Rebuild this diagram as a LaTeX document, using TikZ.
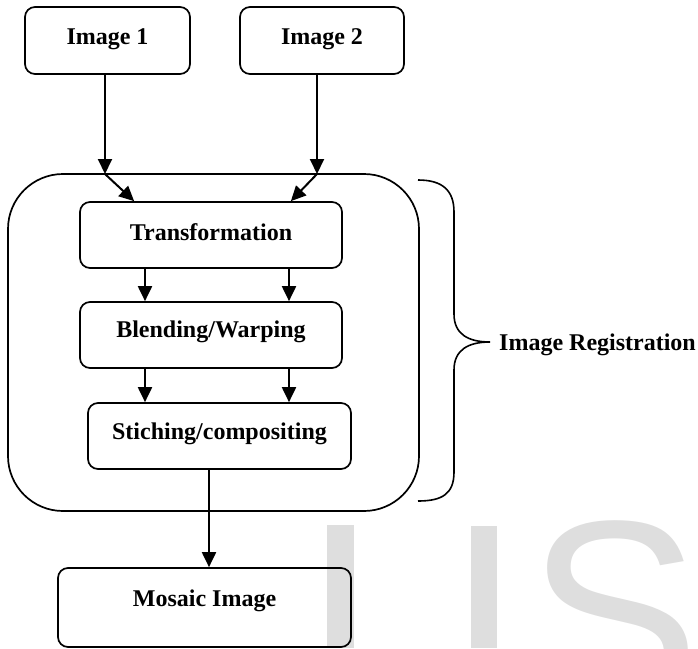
\documentclass[tikz,border=0pt]{standalone}
\usepackage{fontspec}
\setmainfont{Liberation Serif}
\newfontfamily\wmfont{Liberation Sans}
\usetikzlibrary{arrows.meta}
\definecolor{wmgrey}{HTML}{DEDEDE}
\begin{document}
\begin{tikzpicture}[x=1pt,y=-1pt,
  box/.style={draw, line width=1.7pt, rounded corners=10pt, inner sep=0pt,
    font=\fontsize{24}{28}\selectfont\bfseries, text height=18pt},
  arr/.style={line width=2pt, -{Triangle[length=15pt,width=14pt]}},
  lbl/.style={inner sep=0pt, font=\fontsize{24}{28}\selectfont\bfseries},
  wm/.style={fill=wmgrey, draw=none}
]
\useasboundingbox (0,0) rectangle (698,648);
% watermark
\begin{scope}
\clip (0,0) rectangle (698,648);
\fill[wm] (327,525) rectangle (354,648);
\fill[wm] (471,526) rectangle (497,648);
\node[text=wmgrey, anchor=north west, inner sep=0pt, font=\wmfont\fontsize{259}{260}\selectfont] (wmS) at (527,520) {S};
\end{scope}
% boxes
\node[box, minimum width=165pt, minimum height=67pt, text depth=11pt] (img1) at (107.5,40.5) {Image 1};
\node[box, minimum width=164pt, minimum height=67pt, text depth=11pt] (img2) at (322,40.5) {Image 2};
\node[box, minimum width=262pt, minimum height=66pt, text depth=8pt] (tr) at (211,235) {Transformation};
\node[box, minimum width=262pt, minimum height=66pt, text depth=14pt] (bl) at (211,335) {Blending/Warping};
\node[box, minimum width=263pt, minimum height=66pt, text depth=12pt] (st) at (219.5,436) {Stiching/compositing};
\node[box, minimum width=293pt, minimum height=79pt, text depth=21pt] (mo) at (204.5,607.5) {Mosaic Image};
% registration container
\node[draw, line width=1.7pt, rounded corners=55pt, minimum width=411pt, minimum height=337pt, inner sep=0pt] (reg) at (213.5,342.5) {};
% brace and label
\draw[line width=1.6pt] (418,180) .. controls (442,180) and (454,190) .. (454,212) -- (454,314)
  .. controls (454,334) and (468,342) .. (490,342)
  .. controls (468,342) and (454,350) .. (454,370) -- (454,472)
  .. controls (454,494) and (442,501) .. (418,501);
\node[lbl, anchor=base west] (regl) at (499,350) {Image Registration};
% connectors
\coordinate (j1) at (105,174);
\coordinate (j2) at (317,174);
\coordinate (cL) at (145,0);
\coordinate (cR) at (289,0);
\coordinate (cM) at (209,0);
\draw[arr] (img1.south -| j1) -- (j1);
\draw[arr] (img2.south -| j2) -- (j2);
\draw[arr] (j1) -- ([xshift=55pt]tr.north west);
\draw[arr] (j2) -- ([xshift=-52pt]tr.north east);
\draw[arr] (tr.south -| cL) -- (bl.north -| cL);
\draw[arr] (tr.south -| cR) -- (bl.north -| cR);
\draw[arr] (bl.south -| cL) -- (st.north -| cL);
\draw[arr] (bl.south -| cR) -- (st.north -| cR);
\draw[arr] (st.south -| cM) -- (mo.north -| cM);
\end{tikzpicture}
\end{document}
